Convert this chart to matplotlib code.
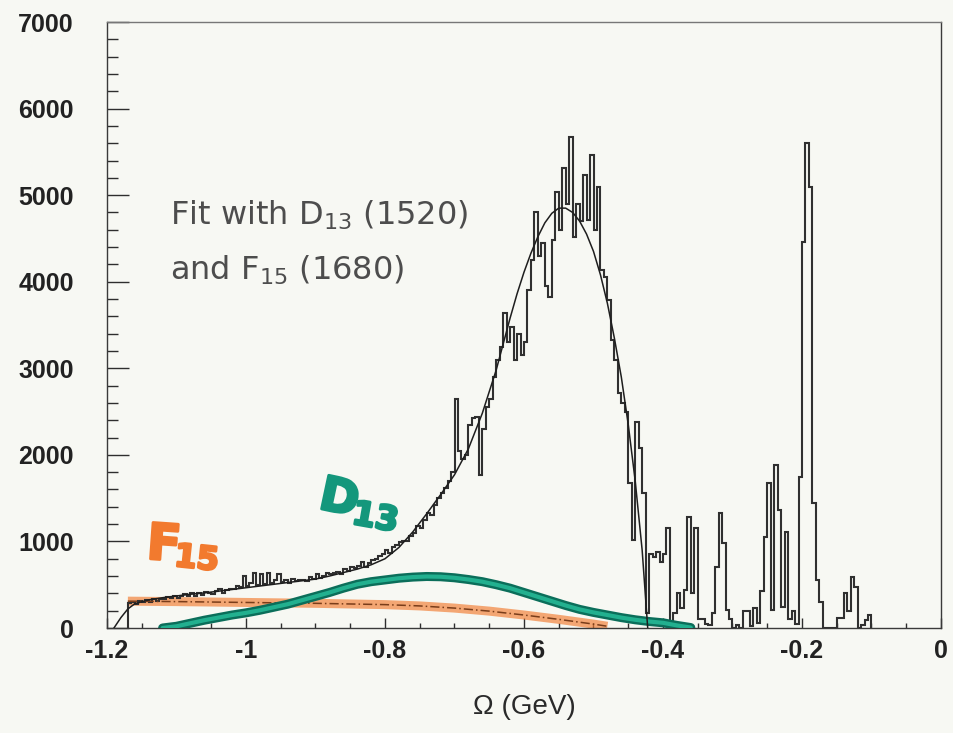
import numpy as np
import matplotlib
matplotlib.use("Agg")
import matplotlib.pyplot as plt
from matplotlib.ticker import MultipleLocator
import matplotlib.patheffects as pe

PAPER = "#f7f8f3"
INK = "#2e2e2e"
ORANGE = "#f27a2e"
TEAL = "#14977c"
TEAL_DARK = "#0b6e5a"

# histogram: 0.005 GeV bins starting at -1.170
BIN_START = -1.170
BIN_WIDTH = 0.005
counts = [
    290, 300, 280, 310, 300, 320, 305, 330, 315, 340,
    335, 360, 345, 375, 350, 370, 390, 365, 400, 375,
    410, 385, 420, 400, 395, 430, 455, 410, 440, 450,
    450, 480, 470, 600, 480, 520, 630, 500, 620, 510,
    640, 520, 560, 620, 530, 550, 520, 570, 540, 560,
    560, 540, 590, 570, 620, 580, 600, 630, 620, 640,
    650, 620, 680, 660, 700, 690, 720, 760, 710, 750,
    780, 800, 830, 850, 900, 870, 930, 960, 990, 1000,
    1000, 1060, 1100, 1180, 1150, 1250, 1330, 1300, 1420, 1500,
    1560, 1620, 1700, 1800, 2650, 2050, 1950, 2000, 2350, 2420,
    2440, 1770, 2300, 2550, 2650, 2900, 3090, 3250, 3640, 3300,
    3475, 3095, 3400, 3150, 3300, 3900, 4250, 4800, 4300, 4450,
    3950, 3820, 4480, 5035, 4600, 5310, 4900, 5670, 4515, 4900,
    4700, 5230, 4710, 5460, 4600, 5090, 4130, 4050, 3790, 3325,
    3100, 2710, 2600, 2500, 1675, 1015, 2380, 2080, 1560, 170,
    860, 820, 880, 760, 850, 1150, 40, 170, 400, 230,
    440, 1280, 400, 1150, 100, 100, 50, 30, 170, 700,
    1330, 980, 210, 100, 0, 30, 0, 200, 200, 20,
    230, 60, 430, 1050, 1675, 210, 1880, 1360, 240, 1110,
    100, 200, 50, 1745, 4460, 5600, 5090, 1440, 550, 300,
    0, 0, 0, 0, 110, 110, 400, 200, 590, 470,
    0, 30, 90, 150,
]

# total fit
fit_x = [-1.19, -1.18, -1.17, -1.16, -1.14, -1.12, -1.10, -1.08, -1.06, -1.04,
         -1.02, -1.00, -0.98, -0.96, -0.94, -0.92, -0.90, -0.88, -0.86, -0.84,
         -0.82, -0.80, -0.78, -0.76, -0.74, -0.72, -0.70, -0.68, -0.66, -0.64,
         -0.63, -0.62, -0.61, -0.60, -0.59, -0.58, -0.57, -0.56, -0.55, -0.54,
         -0.53, -0.52, -0.51, -0.50, -0.49, -0.48, -0.47, -0.46, -0.45, -0.44,
         -0.43, -0.422]
fit_y = [0, 120, 220, 280, 325, 350, 370, 390, 405, 425,
         445, 465, 485, 505, 525, 545, 565, 600, 640, 680,
         730, 800, 930, 1110, 1320, 1540, 1770, 2070, 2480, 2980,
         3280, 3580, 3860, 4110, 4330, 4520, 4680, 4790, 4850, 4850,
         4800, 4700, 4550, 4350, 4080, 3750, 3350, 2900, 2350, 1700,
         900, 0]

# D13 (1520) component
d13_x = [-1.12, -1.10, -1.08, -1.06, -1.04, -1.02, -1.00, -0.98, -0.96, -0.94,
         -0.92, -0.90, -0.88, -0.86, -0.84, -0.82, -0.80, -0.78, -0.76, -0.74,
         -0.72, -0.70, -0.68, -0.66, -0.64, -0.62, -0.60, -0.58, -0.56, -0.54,
         -0.52, -0.50, -0.48, -0.46, -0.44, -0.42, -0.40, -0.38, -0.36]
d13_y = [0, 20, 55, 90, 120, 150, 175, 205, 240, 275,
         320, 365, 410, 460, 505, 535, 555, 575, 588, 595,
         592, 580, 560, 535, 500, 460, 410, 360, 310, 260,
         215, 180, 150, 120, 95, 75, 60, 30, 5]

# F15 (1680) component
f15_x = [-1.17, -1.10, -1.00, -0.90, -0.80, -0.75, -0.70, -0.65, -0.60, -0.55,
         -0.50, -0.48]
f15_y = [310, 305, 295, 285, 270, 255, 230, 195, 150, 100, 45, 20]

x_ticks = [-1.2, -1.0, -0.8, -0.6, -0.4, -0.2, 0.0]
x_tick_labels = ["-1.2", "-1", "-0.8", "-0.6", "-0.4", "-0.2", "0"]
y_ticks = [0, 1000, 2000, 3000, 4000, 5000, 6000, 7000]

fig = plt.figure(figsize=(9.54, 7.33), dpi=100, facecolor=PAPER)
ax = fig.add_axes([107 / 954, 105 / 733, 834 / 954, 606 / 733], facecolor=PAPER)

edges = np.round(BIN_START + BIN_WIDTH * np.arange(len(counts) + 1), 4)
ax.stairs(counts, edges, color="#303030", lw=1.5, zorder=3)

# hand-marked components
ax.plot(f15_x, f15_y, color=ORANGE, lw=6.5, alpha=0.65, solid_capstyle="butt", zorder=2)
ax.plot(f15_x, f15_y, color="#7a3d1a", lw=1.1, ls=(0, (6, 2, 1, 2)), zorder=4)
ax.plot(d13_x, d13_y, color=TEAL_DARK, lw=6.5, solid_capstyle="round", zorder=4)
ax.plot(d13_x, d13_y, color="#22b08f", lw=3.0, solid_capstyle="round", zorder=4)
ax.plot(fit_x, fit_y, color="#1e1e1e", lw=1.1, zorder=5)

ax.set_xlim(-1.2, 0)
ax.set_ylim(0, 7000)
ax.xaxis.set_minor_locator(MultipleLocator(0.05))
ax.yaxis.set_minor_locator(MultipleLocator(200))
ax.tick_params(axis="x", which="major", direction="in", length=7, width=1, color=INK, pad=8)
ax.tick_params(axis="x", which="minor", direction="in", length=3.5, width=1, color=INK)
ax.tick_params(axis="y", which="major", direction="in", length=16, width=1, color=INK, pad=24)
ax.tick_params(axis="y", which="minor", direction="in", length=8, width=1, color=INK)

tick_font = dict(family=["Liberation Sans", "DejaVu Sans"], weight="bold", size=18, color="#222222")
ax.set_xticks(x_ticks)
ax.set_xticklabels(x_tick_labels, **tick_font)
ax.set_yticks(y_ticks)
ax.set_yticklabels([str(v) for v in y_ticks], **tick_font)

for s in ax.spines.values():
    s.set_color("#3a3a3a")
    s.set_linewidth(1.0)
ax.spines["top"].set_color("#777777")

ax.set_xlabel("Ω (GeV)", family=["Liberation Sans", "DejaVu Sans"], size=20,
              color="#2a2a2a", labelpad=22)

note = dict(family=["DejaVu Sans"], size=23, color="#4d4d4d", ha="left", va="center")
ax.text(-1.109, 4770, r"Fit with D$_{\mathregular{13}}$ (1520)", **note)
ax.text(-1.109, 4135, r"and F$_{\mathregular{15}}$ (1680)", **note)

marker = [pe.withStroke(linewidth=2, foreground=ORANGE)]
ax.text(-1.118, 950, "F", color=ORANGE, size=36, weight="heavy", ha="center", va="center",
        rotation=-4, path_effects=marker)
ax.text(-1.071, 790, "15", color=ORANGE, size=23, weight="heavy", ha="center", va="center",
        rotation=-6, path_effects=marker)
marker = [pe.withStroke(linewidth=2, foreground=TEAL)]
ax.text(-0.866, 1480, "D", color=TEAL, size=34, weight="heavy", ha="center", va="center",
        rotation=-12, path_effects=marker)
ax.text(-0.814, 1270, "13", color=TEAL, size=24, weight="heavy", ha="center", va="center",
        rotation=-10, path_effects=marker)

fig.savefig("out.png", dpi=100, facecolor=PAPER)
